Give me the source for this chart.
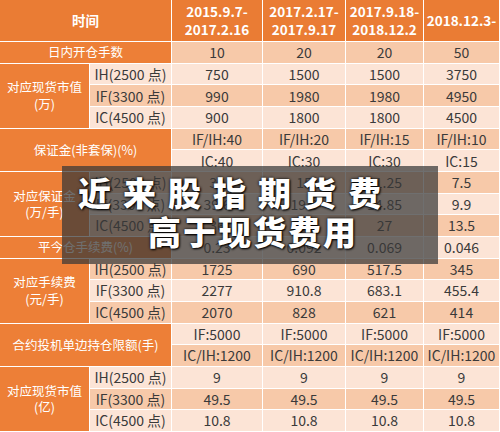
<!DOCTYPE html>
<html><head><meta charset="utf-8">
<script src="https://cdn.jsdelivr.net/npm/chart.js"></script>
<style>
body{margin:0;width:500px;height:432px;overflow:hidden;font-family:"Noto Sans CJK SC","Noto Sans",sans-serif;background:#fff}
#grid{display:grid;grid-template-columns:90px 82px 91px 83px 78px 76px;grid-template-rows:42px repeat(18,21.67px);width:500px;height:432px}
#grid div{display:flex;align-items:center;justify-content:center;box-sizing:border-box;border-right:1px solid #fff;border-bottom:1px solid #fff;font-size:14px;color:#3a3a3a;text-align:center;line-height:1.3;white-space:nowrap}
#grid div.h{background:#ea7c34;color:#fff;font-weight:bold;font-size:13.5px}
#grid div.l{background:#ed7f37;color:#fff;font-size:12.5px}
#grid div.d{background:#f7c9a9}
#grid div.e{background:#fce4d6}
#ov{position:absolute;left:62px;top:166px;width:376px;height:98px;background:rgba(55,55,55,0.72)}
.t{position:absolute;color:#fff;font-weight:900;font-size:33px;text-shadow:0 0 3px #000,1px 1px 2px #000;white-space:nowrap}
</style></head><body>
<div id="grid"></div>
<div id="ov"></div>
<div class="t" style="left:78px;top:168px;letter-spacing:12px">近来股指期货费</div>
<div class="t" style="left:148px;top:207px;letter-spacing:2px">高于现货费用</div>
<script>
var periods = ["2015.9.7-<br>2017.2.16", "2017.2.17-<br>2017.9.17", "2017.9.18-<br>2018.12.2", "2018.12.3-"];
var subLabels = ["IH(2500 点)", "IF(3300 点)", "IC(4500 点)"];
var openLimit = ["10", "20", "20", "50"];
var spotValue = [["750","1500","1500","3750"],["990","1980","1980","4950"],["900","1800","1800","4500"]];
var marginPct = [["IF/IH:40","IF/IH:20","IF/IH:15","IF/IH:10"],["IC:40","IC:30","IC:30","IC:15"]];
var marginAmt = [["30","15","11.25","7.5"],["39.6","19.8","14.85","9.9"],["36","27","27","13.5"]];
var closeFee = ["0.23", "0.092", "0.069", "0.046"];
var fee = [["1725","690","517.5","345"],["2277","910.8","683.1","455.4"],["2070","828","621","414"]];
var posLimit = [["IF:5000","IF:5000","IF:5000","IF:5000"],["IC/IH:1200","IC/IH:1200","IC/IH:1200","IC/IH:1200"]];
var posValue = [["9","9","9","9"],["49.5","49.5","49.5","49.5"],["10.8","10.8","10.8","10.8"]];

var g = document.getElementById("grid");
function cell(txt, cls, r, c, rs, cs) {
  var d = document.createElement("div");
  d.className = cls; d.innerHTML = txt;
  d.style.gridRow = r + " / span " + (rs || 1);
  d.style.gridColumn = c + " / span " + (cs || 1);
  g.appendChild(d);
}
function shade(r) { return (r % 2 == 0) ? "d" : "e"; }
cell("时间", "h", 1, 1, 1, 2);
periods.forEach(function(p, i){ cell(p, "h", 1, 3 + i); });
var row = 2;
function plain(label, vals) {
  cell(label, "l", row, 1, 1, 2);
  vals.forEach(function(v, i){ cell(v, shade(row), row, 3 + i); });
  row++;
}
function group(label, rows, subs) {
  cell(label, "l", row, 1, rows.length, subs ? 1 : 2);
  rows.forEach(function(vals, k){
    if (subs) cell(subs[k], shade(row), row, 2);
    vals.forEach(function(v, i){ cell(v, shade(row), row, 3 + i); });
    row++;
  });
}
plain("日内开仓手数", openLimit);
group("对应现货市值<br>(万)", spotValue, subLabels);
group("保证金(非套保)(%)", marginPct);
group("对应保证金<br>(万/手)", marginAmt, subLabels);
plain("平今仓手续费(%)", closeFee);
group("对应手续费<br>(元/手)", fee, subLabels);
group("合约投机单边持仓限额(手)", posLimit);
group("对应现货市值<br>(亿)", posValue, subLabels);
</script>
</body></html>
